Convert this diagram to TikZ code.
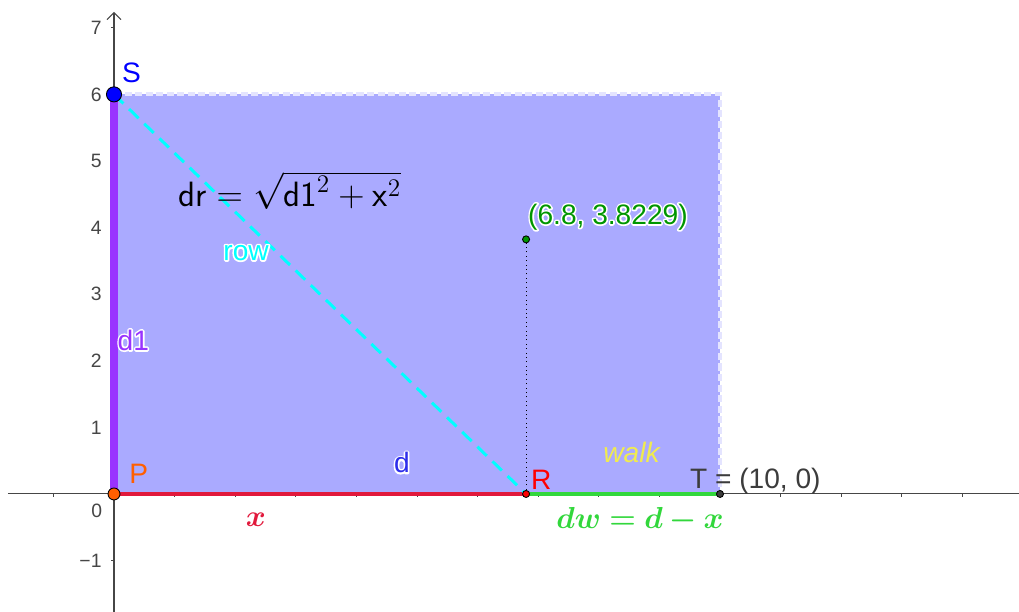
\documentclass[tikz,border=0pt]{standalone}
\usepackage{fontspec}
\setmainfont{Liberation Sans}
\usepackage{amsmath, amssymb}
\usepackage{bm}
\usetikzlibrary{arrows.meta}

\definecolor{fillblue}{RGB}{170,170,255}
\definecolor{edgeblue}{RGB}{228,228,255}
\definecolor{dpurple}{RGB}{153,51,255}
\definecolor{xred}{RGB}{225,25,60}
\definecolor{wgreen}{RGB}{50,215,60}
\definecolor{pgreen}{RGB}{0,150,0}
\definecolor{porange}{RGB}{255,95,0}
\definecolor{tgray}{RGB}{60,60,60}
\definecolor{walkyellow}{RGB}{240,235,80}
\definecolor{dblue}{RGB}{45,45,235}
\definecolor{rowcyan}{RGB}{0,255,255}
\definecolor{axisgray}{RGB}{70,70,70}

\tikzset{
  lbl/.style={font=\fontsize{16}{19}\selectfont, inner sep=0pt},
  mathlbl/.style={font=\fontsize{18}{21}\selectfont, inner sep=0pt},
  ticklbl/.style={font=\fontsize{11}{13}\selectfont, text=axisgray, inner sep=0pt},
  ptmark/.style={draw=black, line width=0.5pt},
}

% white outline behind a label
\newcommand{\halotext}[1]{\special{pdf:literal direct 2 Tr 1.8 w 1 j}#1\special{pdf:literal direct 0 Tr}}
\newcommand{\halolabel}[5][]{%
  \node[lbl, text=white, #1] (#2h) at (#3) {\halotext{#5}};
  \node[lbl, text=#4, #1] (#2) at (#3) {#5};
}

\begin{document}
\begin{tikzpicture}[x=1.212cm, y=1.332cm]
    \useasboundingbox (-1.881,-1.772) rectangle (14.934,7.417);

    % Axes
    \draw[axisgray, line width=0.6pt] (-1.75,0) -- (14.934,0);
    \draw[axisgray, line width=0.6pt, -{Straight Barb[length=4pt,width=8pt]}] (0,-1.772) -- (0,7.24);
    \foreach \i in {-1,1,2,...,14}
        \draw[axisgray, line width=0.5pt] (\i,0) -- (\i,-0.05);
    \foreach \j in {-1,1,2,...,7}
        \draw[axisgray, line width=0.5pt] (0,\j) -- (-0.05,\j);
    \foreach \j in {1,...,7}
        \node[ticklbl, anchor=east] (y\j) at (-0.2,\j) {\j};
    \node[ticklbl, anchor=east] (ym1) at (-0.2,-1) {−1};
    \node[ticklbl, anchor=east] (y0) at (-0.19,-0.26) {0};

    \coordinate (P) at (0,0);
    \coordinate (S) at (0,6);
    \coordinate (R) at (6.8,0);
    \coordinate (T) at (10,0);
    \coordinate (C) at (10,6);
    \coordinate (Q) at (6.8,3.8229);

    % The region
    \fill[fillblue] (P) rectangle (C);
    \draw[edgeblue, line width=2.3pt, dash pattern=on 4pt off 2pt] (S) -- (C) -- (T);

    \draw[dpurple, line width=4pt] (P) -- (S);
    \draw[xred, line width=2.4pt] (P) -- (R);
    \draw[wgreen, line width=2.4pt] (R) -- (T);
    \draw[rowcyan, line width=1.7pt, dash pattern=on 7.5pt off 4.5pt] (S) -- (R);
    \draw[black, dotted, line width=0.5pt] (R) -- (Q);

    % Points
    \filldraw[ptmark, fill=blue] (S) circle (4.3pt);
    \filldraw[ptmark, fill=porange] (P) circle (3.4pt);
    \filldraw[ptmark, fill=red] (R) circle (2pt);
    \filldraw[ptmark, fill=tgray] (T) circle (2pt);
    \filldraw[ptmark, fill=pgreen] (Q) circle (2pt);

    % Labels
    \node[lbl, text=blue] (Slbl) at (0.29,6.33) {S};
    \node[lbl, text=porange] (Plbl) at (0.41,0.30) {P};
    \node[lbl, text=red] (Rlbl) at (7.05,0.21) {R};
    \node[lbl, text=tgray, anchor=west] (Tlbl) at (9.5,0.19) {T = (10, 0)};
    \halolabel[anchor=west]{Qlbl}{6.83,4.16}{pgreen}{(6.8, 3.8229)}
    \halolabel{dilbl}{0.32,2.31}{dpurple}{d1}
    \halolabel{rowlbl}{2.18,3.62}{rowcyan}{row}
    \halolabel{dlbl}{4.75,0.47}{dblue}{d}
    \node[lbl, text=walkyellow] (walklbl) at (8.55,0.63) {\textit{walk}};
    \node[lbl, font=\fontsize{20}{24}\selectfont] (drlbl) at (2.9,4.56) {$\mathsf{dr} = \sqrt{\mathsf{d1}^2 + \mathsf{x}^2}$};
    \node[mathlbl, text=xred] (xlbl) at (2.34,-0.39) {$\bm{x}$};
    \node[mathlbl, text=wgreen] (dwlbl) at (8.68,-0.39) {$\bm{dw = d - x}$};
\end{tikzpicture}
\end{document}
